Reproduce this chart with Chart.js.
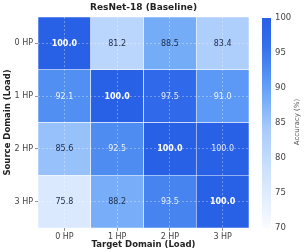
<!DOCTYPE html>
<html>
<head>
<meta charset="utf-8">
<script src="https://cdn.jsdelivr.net/npm/chart.js@4.4.1/dist/chart.umd.min.js"></script>
<style>
  html, body { margin: 0; padding: 0; background: #fff; }
  #wrap { position: relative; width: 306px; height: 252px; }
  #heat { position: absolute; left: 0; top: 0; }
  #cbar { position: absolute; left: 250px; top: 0; }
</style>
</head>
<body>
<div id="wrap">
  <canvas id="heat" width="306" height="252"></canvas>
  <canvas id="cbar" width="56" height="252"></canvas>
</div>
<script>
// Data
const targetLabels = ['0 HP', '1 HP', '2 HP', '3 HP'];
const sourceLabels = ['0 HP', '1 HP', '2 HP', '3 HP'];
const acc0HP = [100.0, 81.2, 88.5, 83.4];
const acc1HP = [92.1, 100.0, 97.5, 91.0];
const acc2HP = [85.6, 92.5, 100.0, 100.0];
const acc3HP = [75.8, 88.2, 93.5, 100.0];
const cbMin = 70;
const cbMax = 100;
const cbTicks = [70, 75, 80, 85, 90, 95, 100];

// rows top to bottom, same order as sourceLabels
const rows = [acc0HP, acc1HP, acc2HP, acc3HP];

// Colormap (white -> royal blue)
const CMAP_STOPS = [70, 78, 84, 88, 92, 96, 100];
const CMAP_RGB = [
  [250, 252, 255], [206, 226, 253], [170, 204, 252], [122, 176, 249],
  [82, 144, 243], [52, 111, 236], [40, 96, 230],
];
const FONT = 'DejaVu Sans';
const GRID = 'rgba(255,255,255,0.4)';

function cmap(v) {
  if (v <= CMAP_STOPS[0]) return rgb(CMAP_RGB[0]);
  for (let i = 1; i < CMAP_STOPS.length; i++) {
    if (v <= CMAP_STOPS[i]) {
      const t = (v - CMAP_STOPS[i - 1]) / (CMAP_STOPS[i] - CMAP_STOPS[i - 1]);
      const a = CMAP_RGB[i - 1], b = CMAP_RGB[i];
      return rgb(a.map((c, k) => c + (b[k] - c) * t));
    }
  }
  return rgb(CMAP_RGB[CMAP_RGB.length - 1]);
}
function rgb(c) { return `rgb(${c.map(Math.round).join(',')})`; }

// one stacked dataset per source row, bottom row first
const datasets = rows.map((vals, r) => ({
  label: sourceLabels[r],
  row: r,
  data: vals.map(() => 1),
  acc: vals,
  backgroundColor: vals.map(cmap),
  borderColor: '#ffffff',
  borderWidth: 0.6,
  borderSkipped: false,
  barPercentage: 1,
  categoryPercentage: 1,
})).reverse();

const cellText = {
  id: 'cellText',
  afterDraw(chart) {
    const ctx = chart.ctx;
    ctx.save();
    ctx.textAlign = 'center';
    ctx.textBaseline = 'middle';
    chart.data.datasets.forEach((ds, di) => {
      const meta = chart.getDatasetMeta(di);
      meta.data.forEach((bar, i) => {
        const v = ds.acc[i];
        const diag = i === ds.row;
        const cy = (bar.y + bar.base) / 2;
        ctx.font = (diag ? 'bold ' : '') + '8px "' + FONT + '"';
        ctx.fillStyle = v > 90 ? (diag ? '#ffffff' : 'rgba(255,255,255,0.88)') : '#1c2a48';
        ctx.fillText(v.toFixed(1), bar.x, cy + 0.5);
      });
    });
    ctx.restore();
  }
};

new Chart(document.getElementById('heat'), {
  type: 'bar',
  data: { labels: targetLabels, datasets },
  options: {
    responsive: false,
    devicePixelRatio: 1,
    animation: false,
    layout: { padding: { left: 0, right: 57, top: 0, bottom: 0 } },
    plugins: {
      legend: { display: false },
      tooltip: { enabled: false },
      title: {
        display: true, fullSize: false,
        text: 'ResNet-18 (Baseline)',
        color: '#222',
        font: { family: FONT, size: 9, weight: 'bold' },
        padding: { top: 2, bottom: 4.2 },
      },
    },
    scales: {
      x: {
        stacked: true,
        grid: {
          offset: false, z: 1, tickLength: 3,
          color: GRID, tickColor: '#777', lineWidth: 0.8,
        },
        border: { display: false, dash: [2, 2] },
        ticks: { color: '#444', font: { family: FONT, size: 8 }, padding: 1 },
        title: {
          display: true, text: 'Target Domain (Load)', color: '#222',
          font: { family: FONT, size: 8.5, weight: 'bold' }, padding: { top: 0, bottom: 2 },
        },
        afterFit: s => { s.height = 24; },
      },
      y: {
        stacked: true, min: 0, max: 4,
        afterBuildTicks: axis => { axis.ticks = [0.5, 1.5, 2.5, 3.5].map(v => ({ value: v })); },
        grid: { z: 1, tickLength: 3, color: GRID, tickColor: '#777', lineWidth: 0.8 },
        border: { display: false, dash: [2, 2] },
        ticks: {
          color: '#444', font: { family: FONT, size: 8 }, padding: 2,
          callback: v => sourceLabels[sourceLabels.length - 1 - Math.floor(v)],
        },
        title: {
          display: true, text: 'Source Domain (Load)', color: '#222',
          font: { family: FONT, size: 8.5, weight: 'bold' }, padding: { top: 3, bottom: 0 },
        },
        afterFit: s => { s.width = 38; },
      },
    },
  },
  plugins: [cellText],
});

// Colorbar
const cbTitle = {
  id: 'cbTitle',
  afterDraw(chart) {
    const { ctx, chartArea } = chart;
    ctx.save();
    ctx.translate(47, (chartArea.top + chartArea.bottom) / 2 - 1);
    ctx.rotate(-Math.PI / 2);
    ctx.textAlign = 'center';
    ctx.textBaseline = 'middle';
    ctx.fillStyle = '#555';
    ctx.font = '7px "' + FONT + '"';
    ctx.fillText('Accuracy (%)', 0, 0);
    ctx.restore();
  }
};

new Chart(document.getElementById('cbar'), {
  type: 'bar',
  data: {
    labels: [''],
    datasets: [{
      data: [[cbMin, cbMax]],
      barPercentage: 1, categoryPercentage: 1, borderWidth: 0,
      backgroundColor: ctx => {
        const { chart } = ctx;
        const area = chart.chartArea;
        if (!area) return 'transparent';
        const ys = chart.scales.y;
        const g = chart.ctx.createLinearGradient(0, ys.getPixelForValue(cbMin), 0, ys.getPixelForValue(cbMax));
        CMAP_STOPS.forEach((s, i) => g.addColorStop((s - cbMin) / (cbMax - cbMin), rgb(CMAP_RGB[i])));
        return g;
      },
    }],
  },
  options: {
    responsive: false,
    devicePixelRatio: 1,
    animation: false,
    layout: { padding: { left: 12, right: 0, top: 18, bottom: 24 } },
    plugins: { legend: { display: false }, tooltip: { enabled: false } },
    scales: {
      x: { display: false },
      y: {
        position: 'right', min: cbMin, max: cbMax,
        afterBuildTicks: axis => { axis.ticks = cbTicks.map(v => ({ value: v })); },
        grid: { display: false, drawTicks: false },
        border: { display: false },
        ticks: { color: '#444', font: { family: FONT, size: 8.5 }, padding: 4 },
        afterFit: s => { s.width = 35; },
      },
    },
  },
  plugins: [cbTitle],
});
</script>
</body>
</html>
